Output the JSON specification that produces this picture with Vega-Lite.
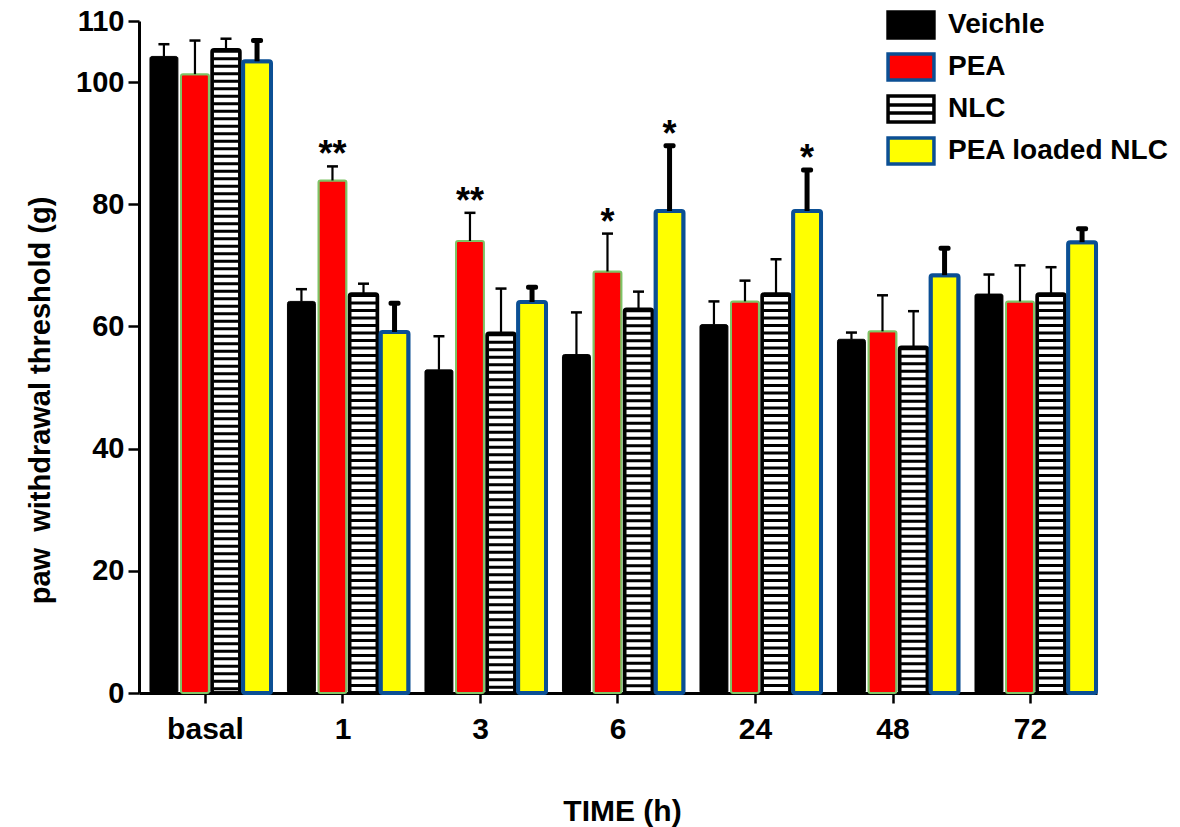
{
  "$schema": "https://vega.github.io/schema/vega-lite/v6.json",
  "width": 958,
  "height": 672,
  "autosize": {"type": "none"},
  "padding": {"left": 139, "top": 21, "right": 83, "bottom": 134},
  "background": "white",
  "config": {
    "font": "Liberation Sans",
    "view": {"stroke": null},
    "axis": {"grid": false, "domainColor": "black", "domainWidth": 3, "tickColor": "black", "tickWidth": 2.5, "labelColor": "black", "titleColor": "black", "labelFont": "Liberation Sans", "titleFont": "Liberation Sans"},
    "legend": {"title": null, "orient": "none", "legendX": 755, "legendY": -13, "symbolSize": 900, "symbolStrokeWidth": 3.5, "symbolOpacity": 1, "labelFontSize": 28, "labelFontWeight": "bold", "labelColor": "black", "labelFont": "Liberation Sans", "labelLimit": 500, "rowPadding": 0, "labelOffset": 20}
  },
  "data": {
    "values": [
      {"time": "basal", "group": "Veichle", "value": 104.2, "err": 106.2, "sig": ""},
      {"time": "basal", "group": "PEA", "value": 101.3, "err": 106.8, "sig": ""},
      {"time": "basal", "group": "NLC", "value": 105.3, "err": 107.1, "sig": ""},
      {"time": "basal", "group": "PEA loaded NLC", "value": 103.4, "err": 106.8, "sig": ""},
      {"time": "1", "group": "Veichle", "value": 64.1, "err": 66.1, "sig": ""},
      {"time": "1", "group": "PEA", "value": 83.9, "err": 86.2, "sig": "**"},
      {"time": "1", "group": "NLC", "value": 65.3, "err": 67.0, "sig": ""},
      {"time": "1", "group": "PEA loaded NLC", "value": 59.1, "err": 63.8, "sig": ""},
      {"time": "3", "group": "Veichle", "value": 52.9, "err": 58.4, "sig": ""},
      {"time": "3", "group": "PEA", "value": 74.0, "err": 78.6, "sig": "**"},
      {"time": "3", "group": "NLC", "value": 58.9, "err": 66.2, "sig": ""},
      {"time": "3", "group": "PEA loaded NLC", "value": 64.0, "err": 66.4, "sig": ""},
      {"time": "6", "group": "Veichle", "value": 55.4, "err": 62.3, "sig": ""},
      {"time": "6", "group": "PEA", "value": 69.0, "err": 75.2, "sig": "*"},
      {"time": "6", "group": "NLC", "value": 62.8, "err": 65.7, "sig": ""},
      {"time": "6", "group": "PEA loaded NLC", "value": 78.9, "err": 89.6, "sig": "*"},
      {"time": "24", "group": "Veichle", "value": 60.3, "err": 64.1, "sig": ""},
      {"time": "24", "group": "PEA", "value": 64.1, "err": 67.5, "sig": ""},
      {"time": "24", "group": "NLC", "value": 65.3, "err": 71.0, "sig": ""},
      {"time": "24", "group": "PEA loaded NLC", "value": 78.9, "err": 85.6, "sig": "*"},
      {"time": "48", "group": "Veichle", "value": 57.9, "err": 59.0, "sig": ""},
      {"time": "48", "group": "PEA", "value": 59.2, "err": 65.1, "sig": ""},
      {"time": "48", "group": "NLC", "value": 56.6, "err": 62.5, "sig": ""},
      {"time": "48", "group": "PEA loaded NLC", "value": 68.4, "err": 72.8, "sig": ""},
      {"time": "72", "group": "Veichle", "value": 65.3, "err": 68.5, "sig": ""},
      {"time": "72", "group": "PEA", "value": 64.1, "err": 70.0, "sig": ""},
      {"time": "72", "group": "NLC", "value": 65.3, "err": 69.7, "sig": ""},
      {"time": "72", "group": "PEA loaded NLC", "value": 73.8, "err": 76.0, "sig": ""}
    ]
  },
  "encoding": {
    "x": {
      "field": "time", "type": "nominal",
      "sort": ["basal", "1", "3", "6", "24", "48", "72"],
      "scale": {"paddingInner": 0.047, "paddingOuter": 0.007},
      "axis": {
        "title": "TIME (h)", "titleFontSize": 30, "titleFontWeight": "bold",
        "titleX": 483, "titleY": 127, "titleBaseline": "alphabetic",
        "labelFontSize": 30, "labelFontWeight": "bold", "labelAngle": 0,
        "tickSize": 10, "labelPadding": 11
      }
    },
    "xOffset": {
      "field": "group", "type": "nominal",
      "sort": ["Veichle", "PEA", "NLC", "PEA loaded NLC"],
      "scale": {"paddingInner": 0.1, "paddingOuter": 0.161, "align": 1}
    },
    "y": {
      "field": "value", "type": "quantitative",
      "scale": {"domain": [0, 110], "nice": false, "zero": true},
      "axis": {
        "title": "paw\u00a0 withdrawal threshold (g)", "titleFontSize": 29, "titleFontWeight": "bold",
        "titleX": -99, "titleY": 379, "titleBaseline": "middle", "titleAngle": -90,
        "values": [0, 20, 40, 60, 80, 100, 110],
        "labelFontSize": 29, "labelFontWeight": "bold", "tickSize": 11, "labelPadding": 4
      }
    }
  },
  "layer": [
    {
      "mark": {"type": "point", "filled": true, "size": 2, "opacity": 1, "strokeWidth": 0.5},
      "encoding": {
        "y": {"datum": 2},
        "shape": {
          "field": "group", "type": "nominal",
          "scale": {"domain": ["Veichle", "PEA", "NLC", "PEA loaded NLC"], "range": ["M-1.53,-0.87H1.53V0.87H-1.53Z", "M-1.53,-0.87H1.53V0.87H-1.53Z", "M-1.53,-0.87H1.53V0.87H-1.53ZM-1.53,-0.26H1.53M-1.53,0.26H1.53", "M-1.53,-0.87H1.53V0.87H-1.53Z"]}
        },
        "fill": {
          "field": "group", "type": "nominal",
          "scale": {"domain": ["Veichle", "PEA", "NLC", "PEA loaded NLC"], "range": ["black", "#ff0000", "white", "#ffff00"]}
        },
        "stroke": {
          "field": "group", "type": "nominal",
          "scale": {"domain": ["Veichle", "PEA", "NLC", "PEA loaded NLC"], "range": ["black", "#0b4f94", "black", "#0b4f94"]}
        }
      }
    },
    {
      "mark": {"type": "bar", "cornerRadius": 2},
      "encoding": {
        "fill": {"field": "group", "type": "nominal"},
        "stroke": {
          "condition": [
            {"test": "datum.group === 'PEA'", "value": "#7ec466"},
            {"test": "datum.group === 'PEA loaded NLC'", "value": "#0b4f94"}
          ],
          "value": "black"
        },
        "strokeWidth": {
          "condition": [
            {"test": "datum.group === 'PEA loaded NLC'", "value": 4},
            {"test": "datum.group === 'NLC'", "value": 3.5},
            {"test": "datum.group === 'PEA'", "value": 2}
          ],
          "value": 1
        }
      }
    },
    {
      "transform": [{"filter": "datum.group === 'NLC'"}],
      "mark": {"type": "rule", "color": "black", "strokeWidth": 25, "strokeDash": [3, 4.5]},
      "encoding": {
        "y": {"field": "value", "type": "quantitative"},
        "y2": {"datum": 0}
      }
    },
    {
      "mark": {"type": "rule", "color": "black"},
      "encoding": {
        "y": {"field": "value", "type": "quantitative"},
        "y2": {"field": "err"},
        "strokeWidth": {
          "condition": {"test": "datum.group === 'PEA loaded NLC'", "value": 5},
          "value": 2.2
        }
      }
    },
    {
      "transform": [{"filter": "datum.group !== 'PEA loaded NLC'"}],
      "mark": {"type": "tick", "color": "black", "thickness": 2.5, "size": 11, "opacity": 1},
      "encoding": {"y": {"field": "err", "type": "quantitative"}}
    },
    {
      "transform": [{"filter": "datum.group === 'PEA loaded NLC'"}],
      "mark": {"type": "tick", "color": "black", "thickness": 5, "size": 12, "opacity": 1, "cornerRadius": 2},
      "encoding": {"y": {"field": "err", "type": "quantitative"}}
    },
    {
      "transform": [{"filter": "datum.sig !== ''"}],
      "mark": {"type": "text", "font": "Liberation Sans", "fontSize": 36, "fontWeight": "bold", "color": "black", "align": "center", "baseline": "alphabetic", "dy": 0},
      "encoding": {
        "y": {"field": "err", "type": "quantitative"},
        "text": {"field": "sig"}
      }
    }
  ]
}
